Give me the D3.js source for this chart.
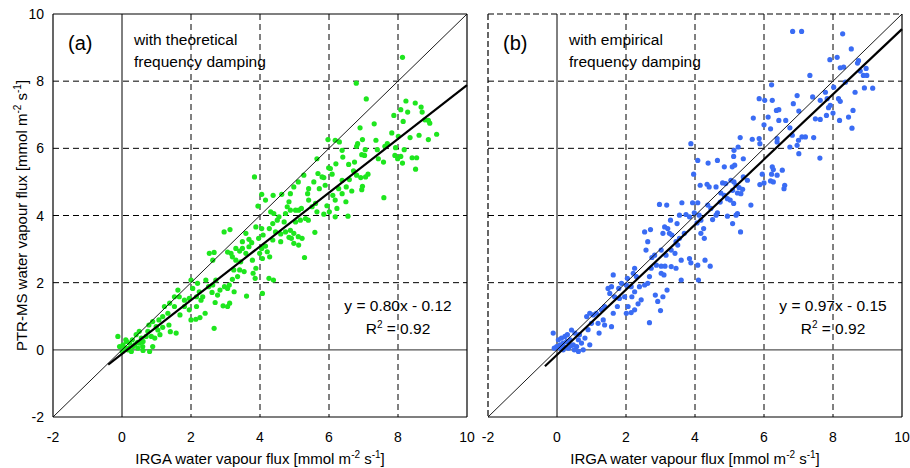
<!DOCTYPE html>
<html>
<head>
<meta charset="utf-8">
<script src="https://cdn.jsdelivr.net/npm/d3@7"></script>
<style>
  body { margin: 0; background: #fff; }
  text { font-family: "Liberation Sans", Arial, sans-serif; fill: #000; }
</style>
</head>
<body>
<svg id="chart" width="910" height="468"></svg>
<script>
// axis ticks
var ticks = [-2, 0, 2, 4, 6, 8, 10];
var gridTicks = [2, 4, 6, 8];

// panel (a): theoretical frequency damping  [IRGA, PTR-MS]
var pointsA = [
  [8.13,8.71],[6.79,7.94],[7.08,7.47],[8.23,7.41],[8.50,7.35],[8.67,7.23],[8.08,7.15],[8.28,7.08],
  [7.88,6.98],[8.70,7.08],[8.78,6.85],[8.88,6.83],[8.92,6.75],[8.15,6.80],[7.31,6.73],[6.90,6.61],
  [9.12,6.42],[8.61,6.39],[8.35,6.32],[8.88,6.26],[8.01,6.36],[7.82,6.46],[7.69,6.14],[7.62,6.06],
  [7.36,6.24],[6.97,6.26],[6.83,6.14],[6.80,6.06],[7.05,5.96],[6.95,5.81],[7.03,5.79],[7.40,5.96],
  [7.93,6.02],[8.18,5.96],[7.91,5.79],[8.08,5.76],[7.99,5.69],[8.41,5.72],[8.54,5.72],[8.13,5.56],
  [8.51,5.38],[7.43,5.69],[7.58,5.59],[5.97,6.26],[6.18,6.24],[6.30,6.19],[6.38,5.94],[6.40,5.74],
  [5.65,5.69],[6.20,5.54],[5.99,5.42],[6.04,5.40],[6.57,5.52],[6.74,5.59],[6.71,5.33],[6.80,5.20],
  [6.92,5.13],[7.06,5.15],[7.13,5.23],[6.59,5.07],[6.50,4.85],[6.97,4.87],[6.95,4.77],[6.66,4.73],
  [6.28,4.80],[6.38,4.65],[7.59,4.53],[5.68,5.25],[5.85,5.13],[5.80,5.15],[5.56,5.00],[5.89,4.90],
  [5.72,4.80],[5.41,4.80],[5.11,5.00],[5.27,5.20],[4.98,4.85],[4.88,4.65],[5.38,4.65],[6.11,4.60],
  [6.18,4.46],[6.49,4.41],[5.94,4.29],[6.23,4.21],[5.85,4.04],[6.01,4.11],[6.18,3.96],[6.55,3.98],
  [3.84,5.15],[4.05,4.63],[4.38,4.60],[4.63,4.63],[4.16,4.46],[3.94,4.28],[4.31,4.11],[4.40,4.06],
  [4.84,4.41],[4.88,4.16],[5.03,4.16],[5.12,4.16],[5.20,4.21],[4.74,4.06],[4.55,3.96],[5.32,3.91],
  [5.40,3.86],[5.17,3.86],[5.03,3.81],[4.70,3.81],[4.37,3.76],[4.27,3.61],[4.05,3.61],[3.88,3.66],
  [4.09,3.42],[3.96,3.32],[4.45,3.51],[4.60,3.45],[4.74,3.51],[4.88,3.56],[4.98,3.47],[4.91,3.32],
  [5.11,3.37],[5.22,3.32],[4.98,3.17],[5.12,3.12],[5.59,3.50],[5.29,2.75],[4.84,3.35],[4.60,3.22],
  [4.37,3.27],[4.16,3.09],[4.05,3.02],[4.21,2.92],[3.99,2.87],[4.28,2.77],[4.07,2.72],[3.68,3.29],
  [3.59,3.47],[3.49,3.22],[3.76,3.19],[3.68,3.07],[3.49,3.02],[3.41,2.94],[3.30,3.02],[3.16,2.87],
  [3.06,2.91],[3.20,2.77],[3.30,2.67],[3.44,2.62],[3.59,2.87],[3.78,2.67],[3.88,2.43],[3.80,2.28],
  [3.86,2.13],[4.07,1.68],[4.26,2.13],[4.39,2.08],[3.54,2.33],[3.41,2.38],[3.24,2.38],[3.35,2.18],
  [3.20,2.10],[3.11,1.93],[2.97,1.88],[3.06,1.83],[2.84,1.78],[2.72,2.08],[2.63,1.93],[2.51,1.88],
  [2.61,1.71],[2.77,1.63],[2.70,1.41],[2.93,1.31],[3.06,1.29],[3.12,1.39],[3.25,1.73],[3.61,1.60],
  [2.96,3.51],[3.13,3.58],[2.53,2.87],[2.67,2.90],[2.63,2.67],[2.43,2.08],[2.00,2.08],[2.19,1.98],
  [2.05,1.83],[2.24,1.73],[2.34,1.58],[2.16,1.58],[1.95,1.53],[1.81,1.48],[1.62,1.78],[1.66,1.58],
  [1.52,1.58],[1.81,1.29],[1.95,1.19],[2.16,1.29],[2.29,1.48],[2.41,1.09],[2.26,0.96],[2.14,0.91],
  [2.00,0.89],[1.68,1.04],[1.52,1.29],[1.38,1.39],[1.23,1.29],[1.33,1.09],[1.18,0.99],[1.07,0.89],
  [0.89,0.84],[0.99,0.69],[0.78,0.74],[1.36,0.74],[1.18,0.67],[1.04,0.59],[1.57,0.50],[1.40,0.54],
  [2.67,0.64],[0.85,0.40],[0.70,0.40],[0.56,0.35],[0.41,0.45],[0.61,0.25],[0.89,0.10],[0.80,-0.05],
  [0.61,-0.02],[0.46,0.05],[0.32,0.10],[0.22,0.20],[0.13,0.25],[0.03,0.15],[-0.07,0.10],[-0.12,0.40],
  [0.08,0.05],[0.17,0.00],[0.27,-0.05],[0.37,0.15],[0.51,0.20],[0.01,-0.05],[0.11,0.30],[6.38,5.05],
  [6.09,5.23],[5.41,4.46],[5.51,4.26],[5.65,4.11],[5.61,4.36],[4.79,4.26],[4.50,3.86],[0.30,0.30],
  [0.45,0.22],[0.60,0.10],[0.20,0.05],[0.95,0.35],[0.75,0.55],[1.10,0.45],[0.50,0.55]
];

// panel (b): empirical frequency damping  [IRGA, PTR-MS]
var pointsB = [
  [6.83,9.48],[7.09,9.48],[8.28,9.41],[8.53,8.96],[8.12,8.71],[7.91,8.64],[8.74,8.61],[8.71,8.54],
  [8.31,8.42],[8.21,8.40],[8.96,8.38],[8.79,8.30],[8.88,8.17],[8.98,8.17],[7.33,8.17],[8.36,7.97],
  [8.91,7.80],[9.15,7.79],[8.64,7.67],[7.78,7.67],[8.02,7.82],[6.22,7.89],[7.83,7.48],[7.63,7.43],
  [7.41,7.53],[6.96,7.57],[6.85,7.33],[7.01,7.11],[8.16,7.48],[8.21,7.40],[7.92,7.28],[7.87,7.21],
  [8.00,7.05],[8.58,7.13],[8.45,6.93],[8.19,6.83],[8.55,6.60],[7.49,6.88],[7.63,6.86],[7.81,6.98],
  [5.86,7.48],[6.02,7.43],[6.24,7.43],[6.36,7.13],[6.43,7.15],[6.12,6.93],[6.43,6.83],[6.63,6.83],
  [5.69,6.90],[6.00,6.70],[6.19,6.58],[6.75,6.61],[6.82,6.39],[7.10,6.34],[7.20,6.34],[7.44,6.32],
  [7.00,6.24],[6.96,6.09],[6.75,6.04],[7.01,5.84],[7.62,5.71],[6.38,6.29],[6.38,6.19],[5.86,6.29],
  [5.66,6.27],[5.88,6.14],[5.31,6.32],[5.25,6.04],[5.13,5.94],[5.40,5.69],[5.12,5.76],[4.65,5.64],
  [3.88,6.14],[4.08,5.64],[4.38,5.56],[4.85,5.45],[5.08,5.45],[5.15,5.50],[6.24,5.45],[6.27,5.37],
  [6.53,5.35],[5.95,5.23],[6.22,5.23],[6.38,5.20],[6.19,5.03],[6.27,5.00],[6.00,4.97],[5.88,4.92],
  [6.60,4.90],[6.58,4.80],[3.96,5.23],[4.15,4.90],[4.35,4.93],[4.41,4.85],[4.61,4.85],[4.80,4.97],
  [4.89,4.95],[5.04,5.05],[5.13,5.00],[5.19,4.90],[5.28,4.83],[5.38,4.78],[5.09,4.75],[5.23,4.67],
  [5.33,4.65],[4.75,4.67],[4.85,4.60],[4.94,4.50],[5.02,4.46],[5.12,4.36],[5.62,4.31],[5.23,4.06],
  [5.19,4.01],[5.09,3.76],[5.32,3.51],[4.94,3.98],[4.65,4.08],[4.46,4.21],[4.37,4.31],[3.93,4.38],
  [4.08,4.38],[3.62,4.38],[3.18,4.31],[2.97,4.33],[3.74,4.03],[3.84,3.96],[3.98,4.08],[4.12,4.01],
  [4.17,3.86],[4.06,3.78],[4.25,3.61],[4.17,3.47],[4.27,3.32],[3.55,4.01],[3.48,3.76],[3.29,3.86],
  [3.12,3.66],[3.21,3.61],[3.07,3.47],[3.26,3.47],[3.33,3.42],[3.55,3.32],[3.69,3.47],[3.45,3.22],
  [3.50,3.12],[3.31,2.97],[3.42,2.87],[3.16,2.82],[3.02,2.97],[2.83,2.82],[2.75,2.75],[2.54,3.51],
  [2.71,3.58],[2.63,3.22],[2.58,2.97],[2.73,2.43],[2.88,2.52],[3.02,2.49],[3.13,2.49],[3.02,2.28],
  [3.10,2.23],[3.31,2.48],[3.45,2.43],[3.60,2.67],[3.84,2.72],[3.88,2.59],[4.08,2.52],[4.29,2.67],
  [4.44,2.49],[3.60,2.08],[4.10,2.08],[3.19,1.78],[3.07,1.58],[2.85,1.63],[2.92,1.44],[3.00,1.17],
  [2.68,0.81],[2.44,1.49],[2.35,1.37],[2.25,1.19],[2.15,1.11],[2.01,1.09],[2.06,1.29],[2.17,1.58],
  [2.25,1.73],[2.39,1.88],[2.54,1.93],[2.63,1.98],[2.68,2.18],[2.25,2.43],[2.21,2.28],[2.30,2.18],
  [2.04,2.13],[1.87,1.98],[2.01,1.93],[1.79,1.83],[1.63,2.23],[1.58,1.88],[1.48,1.83],[1.53,1.68],
  [1.67,1.58],[1.81,1.53],[1.96,1.58],[2.15,1.88],[1.75,1.29],[1.63,1.09],[1.38,1.29],[1.29,1.19],
  [1.14,1.09],[1.05,1.04],[0.95,1.09],[0.86,0.99],[1.00,0.79],[1.19,0.79],[1.34,0.89],[1.38,0.74],
  [1.58,0.69],[1.22,0.50],[0.95,0.15],[0.76,0.00],[0.62,-0.05],[0.50,0.00],[0.71,0.20],[0.81,0.35],
  [0.62,0.30],[0.52,0.50],[0.42,0.59],[0.38,0.30],[0.28,0.25],[0.18,0.20],[0.09,0.15],[-0.01,0.10],
  [-0.08,0.05],[-0.11,0.50],[0.04,0.30],[0.13,0.35],[0.23,0.40],[0.47,0.15],[0.33,0.05],[0.18,0.00],
  [0.09,0.05],[0.57,0.10],[4.51,3.88],[4.61,4.01],[4.73,4.40],[5.40,5.15],[5.52,5.05],[0.30,0.45],
  [0.40,0.12],[0.65,0.45],[0.20,0.08],[0.90,0.60]
];

var panels = [
  { x0: 53, label: "(a)", note: ["with theoretical", "frequency damping"], pts: pointsA,
    slope: 0.80, icpt: -0.12, xStart: -0.4, eq: "y = 0.80x - 0.12", color: "#1ee61e", yLabels: true, dashedFrame: false },
  { x0: 488, label: "(b)", note: ["with empirical", "frequency damping"], pts: pointsB,
    slope: 0.97, icpt: -0.15, xStart: -0.35, eq: "y = 0.97x - 0.15", color: "#3a6cf4", yLabels: false, dashedFrame: true }
];

var W = 414, H = 403, marginTop = 14;
var svg = d3.select("#chart");

var x = d3.scaleLinear().domain([-2, 10]).range([0, W]);
var y = d3.scaleLinear().domain([-2, 10]).range([H, 0]);

panels.forEach(function (p) {
  var g = svg.append("g").attr("transform", "translate(" + p.x0 + "," + marginTop + ")");

  // dashed grid
  g.selectAll(".gx").data(gridTicks).enter().append("line")
    .attr("x1", d => x(d)).attr("x2", d => x(d)).attr("y1", 0).attr("y2", H)
    .attr("stroke", "#000").attr("stroke-width", 1).attr("stroke-dasharray", "6,4");
  g.selectAll(".gy").data(gridTicks).enter().append("line")
    .attr("y1", d => y(d)).attr("y2", d => y(d)).attr("x1", 0).attr("x2", W)
    .attr("stroke", "#000").attr("stroke-width", 1).attr("stroke-dasharray", "6,4");

  // zero lines
  g.append("line").attr("x1", x(0)).attr("x2", x(0)).attr("y1", 0).attr("y2", H)
    .attr("stroke", "#000").attr("stroke-width", 1);
  g.append("line").attr("x1", 0).attr("x2", W).attr("y1", y(0)).attr("y2", y(0))
    .attr("stroke", "#555").attr("stroke-width", 1.2);

  // points
  g.selectAll(".pt").data(p.pts).enter().append("circle")
    .attr("cx", d => x(d[0])).attr("cy", d => y(d[1])).attr("r", 2.6)
    .attr("fill", p.color);

  // 1:1 line
  g.append("line").attr("x1", x(-2)).attr("y1", y(-2)).attr("x2", x(10)).attr("y2", y(10))
    .attr("stroke", "#000").attr("stroke-width", 0.9);

  // regression line
  var xEnd = Math.min(10, (10 - p.icpt) / p.slope);
  g.append("line")
    .attr("x1", x(p.xStart)).attr("y1", y(p.slope * p.xStart + p.icpt))
    .attr("x2", x(xEnd)).attr("y2", y(p.slope * xEnd + p.icpt))
    .attr("stroke", "#000").attr("stroke-width", 2.2);

  // frame
  var frame = [
    [0, 0, W, 0, p.dashedFrame], [0, 0, 0, H, p.dashedFrame],
    [0, H, W, H, false], [W, 0, W, H, false]
  ];
  frame.forEach(function (f) {
    g.append("line").attr("x1", f[0]).attr("y1", f[1]).attr("x2", f[2]).attr("y2", f[3])
      .attr("stroke", "#000").attr("stroke-width", 1.2)
      .attr("stroke-dasharray", f[4] ? "6,3" : null);
  });

  // tick labels
  g.selectAll(".xt").data(ticks).enter().append("text")
    .attr("x", d => x(d)).attr("y", H + 25).attr("text-anchor", "middle")
    .attr("font-size", 14).text(d => d);
  if (p.yLabels) {
    g.selectAll(".yt").data(ticks).enter().append("text")
      .attr("x", -9).attr("y", d => y(d) + 5).attr("text-anchor", "end")
      .attr("font-size", 14).text(d => d);
  }

  // panel texts
  g.append("text").attr("x", 15).attr("y", 36).attr("font-size", 20).text(p.label);
  g.append("text").attr("x", 81).attr("y", 31).attr("font-size", 15.5).text(p.note[0]);
  g.append("text").attr("x", 81).attr("y", 53).attr("font-size", 15.5).text(p.note[1]);

  g.append("text").attr("x", 345).attr("y", 297).attr("text-anchor", "middle")
    .attr("font-size", 15.5).text(p.eq);
  var r2 = g.append("text").attr("x", 345).attr("y", 320).attr("text-anchor", "middle")
    .attr("font-size", 15.5);
  r2.append("tspan").text("R");
  r2.append("tspan").attr("font-size", 10).attr("dy", -6).text("2");
  r2.append("tspan").attr("dy", 6).text(" = 0.92");

  // x axis label
  var xl = g.append("text").attr("x", W / 2).attr("y", H + 47).attr("text-anchor", "middle")
    .attr("font-size", 15);
  xl.append("tspan").text("IRGA water vapour flux [mmol m");
  xl.append("tspan").attr("font-size", 10).attr("dy", -6).text("-2");
  xl.append("tspan").attr("dy", 6).text(" s");
  xl.append("tspan").attr("font-size", 10).attr("dy", -6).text("-1");
  xl.append("tspan").attr("dy", 6).text("]");
});

// y axis label
var yl = svg.append("text")
  .attr("transform", "translate(27," + (marginTop + H / 2) + ") rotate(-90)")
  .attr("text-anchor", "middle").attr("font-size", 15);
yl.append("tspan").text("PTR-MS water vapour flux [mmol m");
yl.append("tspan").attr("font-size", 10).attr("dy", -6).text("-2");
yl.append("tspan").attr("dy", 6).text(" s");
yl.append("tspan").attr("font-size", 10).attr("dy", -6).text("-1");
yl.append("tspan").attr("dy", 6).text("]");
</script>
</body>
</html>
